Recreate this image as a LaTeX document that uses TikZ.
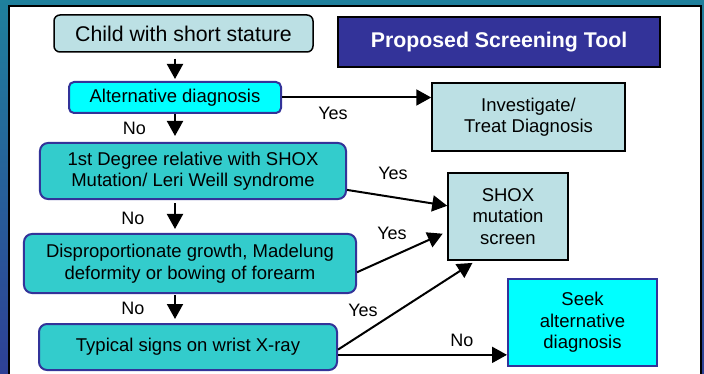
\documentclass[tikz,border=0pt]{standalone}
\usepackage{fontspec}
\setmainfont{Liberation Sans}
\usetikzlibrary{arrows.meta}

\definecolor{frametop}{RGB}{31,128,156}
\definecolor{framebot}{RGB}{46,64,150}
\definecolor{paleteal}{RGB}{188,224,228}
\definecolor{midteal}{RGB}{51,204,204}
\definecolor{brightcyan}{RGB}{0,255,255}
\definecolor{deepblue}{RGB}{51,51,153}

\tikzset{
  boxtext/.style={font=\fontsize{18.5}{21.5}\selectfont, align=center, inner sep=0pt},
  palebox/.style={boxtext, draw=black, line width=1.5pt, fill=paleteal},
  tealbox/.style={boxtext, draw=deepblue, line width=2pt, fill=midteal, rounded corners=8pt},
  cyanbox/.style={boxtext, draw=deepblue, line width=2pt, fill=brightcyan},
  titlebox/.style={boxtext, draw=black, line width=1.5pt, fill=deepblue, text=white,
    font=\bfseries\fontsize{21.3}{24}\selectfont},
  answer/.style={font=\fontsize{18}{21}\selectfont, inner sep=0pt},
  flow/.style={-{Triangle[length=15pt,width=16pt]}, line width=2pt}
}

\begin{document}
\begin{tikzpicture}[x=100pt,y=100pt]
  \clip (0.00, 0.00) rectangle (7.04, -3.74);
  \shade[top color=frametop, bottom color=framebot] (0.00, 0.00) rectangle (7.04, -3.74);
  \draw[line width=2pt, fill=white] (0.09, -0.06) rectangle (7.01, -3.90);

  % left column
  \node[palebox, rounded corners=6pt, minimum width=259pt, minimum height=37pt,
    font=\fontsize{21.3}{24}\selectfont] (child) at (1.835, -0.335) {Child with short stature};
  \node[cyanbox, rounded corners=5pt, minimum width=212pt, minimum height=31pt] (alt) at (1.75, -0.975) {Alternative diagnosis};
  \node[tealbox, minimum width=306pt, minimum height=56pt] (degree) at (1.93, -1.71) {1st Degree relative with SHOX\\Mutation/ Leri Weill syndrome};
  \node[tealbox, minimum width=332pt, minimum height=59pt] (disprop) at (1.90, -2.635) {Disproportionate growth, Madelung\\deformity or bowing of forearm};
  \node[tealbox, minimum width=298pt, minimum height=46pt] (wrist) at (1.88, -3.47) {Typical signs on wrist X-ray};

  % right column
  \node[titlebox, minimum width=322pt, minimum height=50pt] (title) at (4.99, -0.42) {Proposed Screening Tool};
  \node[palebox, minimum width=193pt, minimum height=68pt] (treat) at (5.285, -1.17) {Investigate/\\Treat Diagnosis};
  \node[palebox, minimum width=120pt, minimum height=87pt] (shox) at (5.08, -2.165) {SHOX\\mutation\\screen};
  \node[cyanbox, minimum width=149pt, minimum height=87pt] (seek) at (5.825, -3.225) {Seek\\alternative\\diagnosis};

  % answers
  \node[answer] (yes1) at (3.33, -1.13) {Yes};
  \node[answer] (no1) at (1.345, -1.28) {No};
  \node[answer] (yes2) at (3.93, -1.73) {Yes};
  \node[answer] (no2) at (1.33, -2.18) {No};
  \node[answer] (yes3) at (3.92, -2.33) {Yes};
  \node[answer] (no3) at (1.33, -3.08) {No};
  \node[answer] (yes4) at (3.63, -3.10) {Yes};
  \node[answer] (no4) at (4.62, -3.40) {No};

  % connectors
  \draw[flow, shorten <=6pt, shorten >=2pt] (alt.north |- child.south) -- (alt.north);
  \draw[flow, shorten >=6pt] (alt.south) -- (alt.south |- degree.north);
  \draw[flow, shorten <=3pt, shorten >=4pt] (alt.south |- degree.south) -- (alt.south |- disprop.north);
  \draw[flow, shorten <=1pt, shorten >=4pt] (alt.south |- disprop.south) -- (alt.south |- wrist.north);
  \draw[flow] (alt.east) -- (alt.east -| treat.west);
  \draw[flow] (degree.-7) -- (shox.170);
  \draw[flow, shorten >=5pt] (disprop.-3) -- (shox.194);
  \draw[flow, shorten >=4pt] (wrist.-1) -- (shox.234);
  \draw[flow] (wrist.-3) -- (wrist.-3 -| seek.west);
\end{tikzpicture}
\end{document}
